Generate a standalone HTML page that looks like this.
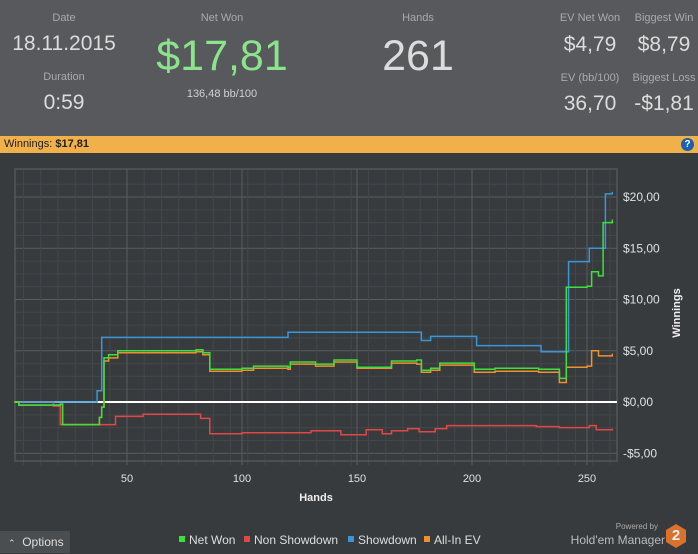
<!DOCTYPE html>
<html><head><meta charset="utf-8"><style>
body{margin:0;width:698px;height:553px;overflow:hidden;background:#383b3e;font-family:"Liberation Sans",sans-serif;position:relative}
.hdr{position:absolute;left:0;top:0;width:698px;height:136px;background:#57595c}
.t{position:absolute;transform:translateX(-50%);white-space:nowrap;text-align:center}
.lbl{color:#a8aaac;font-size:11px}
.val{color:#dcdcdc;font-size:21px}
.bar{position:absolute;left:0;top:136px;width:698px;height:17px;background:#f0b04a;font-size:11px;line-height:17px;color:#222}
</style></head><body>
<div class="hdr">
<div class="t lbl" style="left:64px;top:12px">Date</div>
<div class="t val" style="left:64px;top:32px">18.11.2015</div>
<div class="t lbl" style="left:64px;top:71px">Duration</div>
<div class="t val" style="left:64px;top:91px">0:59</div>
<div class="t lbl" style="left:222px;top:12px">Net Won</div>
<div class="t" style="left:222px;top:32px;font-size:43px;color:#8be38b">$17,81</div>
<div class="t" style="left:222px;top:88px;font-size:11px;color:#d0d0d0">136,48 bb/100</div>
<div class="t lbl" style="left:418px;top:12px">Hands</div>
<div class="t" style="left:418px;top:32px;font-size:43px;color:#dcdcdc">261</div>
<div class="t lbl" style="left:590px;top:12px">EV Net Won</div>
<div class="t val" style="left:590px;top:33px">$4,79</div>
<div class="t lbl" style="left:664px;top:12px">Biggest Win</div>
<div class="t val" style="left:664px;top:33px">$8,79</div>
<div class="t lbl" style="left:590px;top:72px">EV (bb/100)</div>
<div class="t val" style="left:590px;top:92px">36,70</div>
<div class="t lbl" style="left:664px;top:72px">Biggest Loss</div>
<div class="t val" style="left:664px;top:92px">-$1,81</div>
</div>
<div class="bar"><span style="padding-left:4px">Winnings: <b>$17,81</b></span>
<div style="position:absolute;right:4px;top:2px;width:13px;height:13px;border-radius:50%;background:#1a5fb0;color:#fff;font-size:10px;line-height:13px;text-align:center;font-weight:bold">?</div></div>
<svg id="chart" width="698" height="400" style="position:absolute;left:0;top:153px"></svg>
<div style="position:absolute;left:0;top:531px;width:70px;height:22px;background:#4b4e51;color:#ddd;font-size:12px;line-height:22px"><span style="padding-left:8px;font-size:9px">&#8963;</span>&nbsp; Options</div>
<div style="position:absolute;left:590px;top:522px;font-size:8px;color:#aaa;width:68px;text-align:right">Powered by</div>
<div style="position:absolute;left:560px;top:533px;font-size:12px;color:#bbb;width:105px;text-align:right">Hold'em Manager</div>
<div style="position:absolute;left:666px;top:524px;width:20px;height:24px;background:#d8722c;clip-path:polygon(50% 0,100% 25%,100% 75%,50% 100%,0 75%,0 25%);color:#eee;font-weight:bold;font-size:15px;text-align:center;line-height:24px">2</div>
<script>
const hands=[1,3,15,21,22,37,38,39,40,42,46,55,80,83,86,100,105,120,121,128,132,140,150,165,176,178,182,186,200,201,210,229,238,241,250,252,255,257,261];
const netWon=[0,-0.3,-0.3,-0.2,-2.2,-2.2,-1.5,-0.5,4.3,4.6,5.0,5.0,5.1,4.8,3.2,3.3,3.5,3.4,3.9,3.9,3.7,4.1,3.4,4.0,4.1,3.1,3.3,3.8,3.8,3.2,3.3,3.2,2.3,11.2,11.3,12.7,12.3,17.5,17.8];
const allInEv=[0,-0.3,-0.3,-0.2,-2.2,-2.2,-1.5,-0.5,4.0,4.3,4.8,4.8,4.9,4.6,3.0,3.1,3.3,3.2,3.7,3.7,3.5,3.9,3.3,3.8,3.7,2.9,3.1,3.6,3.6,2.9,3.0,2.9,1.9,3.4,3.5,5.0,4.5,4.5,4.7];
const sdHands=[1,35,37,38,39,119,120,177,178,182,201,202,229,230,241,242,250,251,257,258,261];
const showdown=[0,0,1.1,1.1,6.3,6.3,6.8,6.8,6.0,6.4,6.4,5.5,5.5,4.9,4.9,13.7,13.7,15.0,15.0,20.3,20.5];
const nsHands=[1,18,21,42,45,56,57,76,82,86,100,128,130,140,143,153,154,161,165,172,177,184,189,200,228,238,251,254,261];
const nonShowdown=[0,-0.4,-2.2,-2.2,-1.4,-1.4,-1.2,-1.2,-1.6,-3.1,-3.0,-3.0,-2.8,-2.8,-3.2,-3.2,-2.7,-3.1,-2.8,-2.6,-2.9,-2.6,-2.3,-2.3,-2.4,-2.5,-2.3,-2.7,-2.6];
const yTicks=[20,15,10,5,0,-5];
const yLabels=["$20,00","$15,00","$10,00","$5,00","$0,00","-$5,00"];
const xTicks=[50,100,150,200,250];
const NS="http://www.w3.org/2000/svg",svg=document.getElementById('chart');
const L=15,R=617,T=16,B=308;
const X=h=>12+h*2.3, Y=v=>249-v*10.25;
function mk(t,a,p){const e=document.createElementNS(NS,t);for(const k in a)e.setAttribute(k,a[k]);(p||svg).appendChild(e);return e}
for(let v=-6.25;v<=22;v+=1.25){const y=Y(v);if(y<T||y>B)continue;const major=Math.abs(v%5)<1e-6;
const g=mk('line',{x1:L,x2:R,y1:y,y2:y,stroke:major?'#5a5d60':'#43464a','stroke-width':1});
}
for(let h=5;h<262;h+=7.5){const x=X(h);if(x<L)continue;
const g=mk('line',{x1:x,x2:x,y1:T,y2:B+4,stroke:'#43464a'});}
xTicks.forEach(h=>{const g=mk('line',{x1:X(h),x2:X(h),y1:T,y2:B+4,stroke:'#5a5d60'});
const t=mk('text',{x:X(h),y:B+21,fill:'#e0e0e0','font-size':11,'text-anchor':'middle','font-family':'Liberation Sans'});t.textContent=h;
});
const fr=mk('rect',{x:L,y:T,width:R-L,height:B-T,fill:'none',stroke:'#5f6265'});
yTicks.forEach((v,i)=>{const t=mk('text',{x:623,y:Y(v)+4,fill:'#e0e0e0','font-size':12,'font-family':'Liberation Sans'});t.textContent=yLabels[i];
});
const z=mk('line',{x1:L,x2:R,y1:Y(0),y2:Y(0),stroke:'#fff','stroke-width':2});
function step(hs,vs){let d='M'+X(hs[0]).toFixed(1)+','+Y(vs[0]).toFixed(1);for(let i=1;i<hs.length;i++){const x=X(hs[i]).toFixed(1);d+='L'+x+','+Y(vs[i-1]).toFixed(1)+'L'+x+','+Y(vs[i]).toFixed(1);}return d}
const s1=mk('path',{d:step(nsHands,nonShowdown),fill:'none',stroke:'#e04848','stroke-width':1.5});
const s2=mk('path',{d:step(sdHands,showdown),fill:'none',stroke:'#3a96d8','stroke-width':1.5});
const s3=mk('path',{d:step(hands,allInEv),fill:'none',stroke:'#f0902c','stroke-width':1.5});
const s4=mk('path',{d:step(hands,netWon),fill:'none',stroke:'#3ce03c','stroke-width':1.5});
const xt=mk('text',{x:316,y:348,fill:'#eee','font-size':11,'font-weight':'bold','text-anchor':'middle','font-family':'Liberation Sans'});xt.textContent='Hands';

const yt=mk('text',{x:0,y:0,fill:'#eee','font-size':11,'font-weight':'bold','text-anchor':'middle','font-family':'Liberation Sans',transform:'translate(680,160) rotate(-90)'});yt.textContent='Winnings';

const leg=[["Net Won","#3ce03c",179],["Non Showdown","#e04848",244],["Showdown","#3a96d8",348],["All-In EV","#f0902c",424]];
leg.forEach(l=>{const r=mk('rect',{x:l[2],y:383,width:6,height:6,fill:l[1]});
const t=mk('text',{x:l[2]+10,y:391,fill:'#ddd','font-size':12,'font-family':'Liberation Sans'});t.textContent=l[0];
});
</script>
</body></html>
